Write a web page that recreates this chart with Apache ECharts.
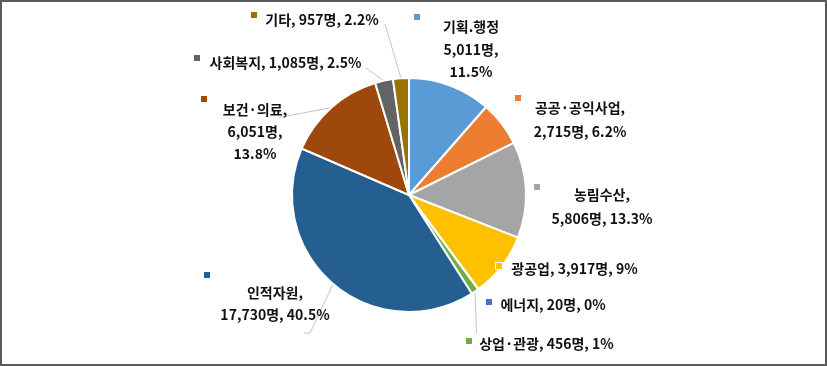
<!DOCTYPE html>
<html><head><meta charset="utf-8">
<script src="https://cdn.jsdelivr.net/npm/echarts@6/dist/echarts.min.js"></script>
<style>
html,body{margin:0;padding:0;background:#fff;}
#wrap{position:relative;width:827px;height:366px;overflow:hidden;background:#fff;}
#chart{position:absolute;left:0;top:0;width:827px;height:366px;}
#frame{position:absolute;left:0;top:0;width:827px;height:366px;box-sizing:border-box;border:2px solid #5b5b5b;pointer-events:none;}
</style></head><body>
<div id="wrap"><div id="chart"></div><div id="frame"></div></div>
<script>
// ---- data ----
const categories = ['기획.행정','공공·공익사업','농림수산','광공업','에너지','상업·관광','인적자원','보건·의료','사회복지','기타'];
const workers = [5011, 2715, 5806, 3917, 20, 456, 17730, 6051, 1085, 957];
const shareLabels = ['11.5%','6.2%','13.3%','9%','0%','1%','40.5%','13.8%','2.5%','2.2%'];
const unit = '명';

// ---- styles ----
const colors = ['#5B9BD5','#ED7D31','#A5A5A5','#FFC000','#4472C4','#70AD47','#255E91','#9E480E','#636363','#997300'];

// label placement (layout only): text block centre, marker centre, text template,
// line height, and the leader-line bend/end points (the start is the library's slice anchor)
const labelCfg = [
  {tpl:'A', tx:471,   ty:49.5,  mx:417, my:17,  lh:22.5, line:null},
  {tpl:'B', tx:580,   ty:120,   mx:518, my:98,  lh:24,   line:null},
  {tpl:'B', tx:602,   ty:207,   mx:537, my:187, lh:24,   line:null},
  {tpl:'C', tx:574.5, ty:269,   mx:499, my:266, lh:20,   line:null},
  {tpl:'C', tx:553,   ty:305,   mx:489, my:302, lh:20,   line:null},
  {tpl:'C', tx:546.5, ty:344,   mx:469, my:341, lh:20,   line:[[476.5, 333]]},
  {tpl:'B', tx:275,   ty:304,   mx:207, my:275, lh:22,   line:[[310, 333], [304, 333]]},
  {tpl:'D', tx:255,   ty:131.5, mx:204, my:99,  lh:22,   line:[[279, 117.5]]},
  {tpl:'C', tx:285.5, ty:63,    mx:197, my:58,  lh:20,   line:[[366, 68]]},
  {tpl:'C', tx:322,   ty:20,    mx:254, my:15,  lh:20,   line:[[385, 24]]}
];

function labelText(i) {
  const n = categories[i];
  const v = workers[i].toLocaleString('en-US') + unit;
  const p = shareLabels[i];
  switch (labelCfg[i].tpl) {
    case 'A': return n + '\n' + v + ',\n' + p;
    case 'B': return n + ',\n' + v + ', ' + p;
    case 'D': return n + ',\n' + v + ',\n' + p;
    default:  return n + ', ' + v + ', ' + p;
  }
}

const markerRich = {};
colors.forEach((c, i) => {
  markerRich['m' + i] = {width: 6, height: 6, backgroundColor: c, borderColor: '#fff', borderWidth: 1};
});

const center = [409, 195];
const radius = 117;
const font = '"Noto Sans CJK KR", "Malgun Gothic", sans-serif';

const chart = echarts.init(document.getElementById('chart'), null, {renderer: 'canvas'});
chart.setOption({
  animation: false,
  backgroundColor: '#fff',
  series: [
    {
      type: 'pie',
      center: center,
      radius: radius,
      startAngle: 90,
      clockwise: true,
      avoidLabelOverlap: false,
      color: colors,
      itemStyle: {borderColor: '#fff', borderWidth: 2},
      label: {
        show: true,
        position: 'outside',
        color: '#111',
        fontFamily: font,
        fontWeight: 'bold',
        fontSize: 14,
        align: 'center',
        formatter: p => labelText(p.dataIndex)
      },
      labelLine: {show: true, length: 10, length2: 6, smooth: false,
                  lineStyle: {color: '#c4c4c4', width: 1}},
      labelLayout: p => {
        const c = labelCfg[p.dataIndex];
        const out = {x: c.tx, y: c.ty, align: 'center', verticalAlign: 'middle'};
        if (c.line && p.labelLinePoints && p.labelLinePoints.length) {
          out.labelLinePoints = [p.labelLinePoints[0]].concat(c.line);
        }
        return out;
      },
      data: categories.map((name, i) => ({
        name: name,
        value: workers[i],
        label: {lineHeight: labelCfg[i].lh},
        labelLine: {show: !!labelCfg[i].line}
      }))
    },
    {
      type: 'pie',
      silent: true,
      center: center,
      radius: radius,
      startAngle: 90,
      clockwise: true,
      avoidLabelOverlap: false,
      z: 3,
      itemStyle: {color: 'rgba(0,0,0,0)', borderWidth: 0},
      label: {
        show: true,
        position: 'outside',
        formatter: p => '{m' + p.dataIndex + '|}',
        rich: markerRich
      },
      labelLine: {show: false},
      labelLayout: p => {
        const c = labelCfg[p.dataIndex];
        return {x: c.mx, y: c.my, align: 'center', verticalAlign: 'middle'};
      },
      data: categories.map((name, i) => ({name: name, value: workers[i]}))
    }
  ]
});
</script>
</body></html>
